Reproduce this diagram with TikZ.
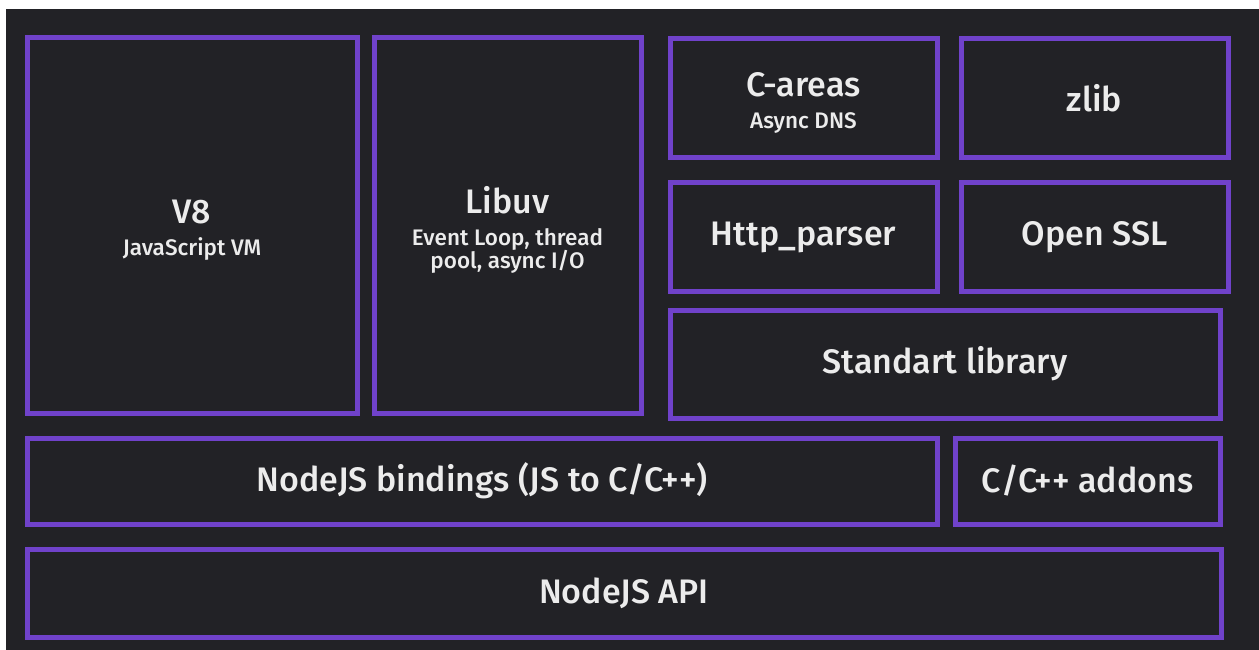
\documentclass[tikz,border=0pt]{standalone}
\usepackage{fontspec}
\setmainfont{Fira Sans Medium}
\definecolor{bgdark}{RGB}{34,34,38}
\definecolor{layerline}{RGB}{112,66,202}
\definecolor{labeltext}{RGB}{236,236,236}
\newcommand{\bigtxt}{\fontsize{34}{38}\selectfont}
\newcommand{\smalltxt}{\fontsize{22.5}{26}\selectfont}
\tikzset{
  layer/.style={draw=layerline, line width=5pt, fill=bgdark, text=labeltext,
    align=center, inner sep=0pt, font=\bigtxt},
  caption/.style={text=labeltext, align=center, inner sep=0pt, font=\bigtxt},
}
\begin{document}
\begin{tikzpicture}[x=1pt,y=-1pt]
\useasboundingbox (0,0) rectangle (1259,650);
\fill [white] (0,0) rectangle (1259,650);
\fill [bgdark] (6,9) rectangle (1259,650);

% left column
\node [layer, minimum width=330pt, minimum height=375pt] (veight) at (192,225.5) {};
\node [caption] (veighttxt) at ([yshift=-5pt]veight.center)
  {V8\\[-6pt]{\smalltxt JavaScript VM}};
\node [layer, minimum width=267pt, minimum height=375pt] (libuv) at (507.5,225.5) {};
\node [caption] (libuvtxt) at ([yshift=-4pt]libuv.center)
  {Libuv\\[-6pt]{\smalltxt Event Loop, thread}\\[-15pt]{\smalltxt pool, async I/O}};

% right column
\node [layer, minimum width=267pt, minimum height=119pt] (careas) at (803.5,98.5) {};
\node [caption] (careastxt) at ([yshift=-4pt]careas.center)
  {C-areas\\[-6pt]{\smalltxt Async DNS}};
\node [layer, minimum width=267pt, minimum height=119pt] (zlib) at (1094.5,98.5) {zlib};
\node [layer, minimum width=267pt, minimum height=108pt] (httpparser) at (803.5,237) {Http\_parser};
\node [layer, minimum width=267pt, minimum height=108pt] (openssl) at (1094.5,237) {Open SSL};
\node [layer, minimum width=550pt, minimum height=108pt] (stdlib) at (945,364) {Standart library};

% bottom rows
\node [layer, minimum width=910pt, minimum height=86pt] (bindings) at (482,481) {NodeJS bindings (JS to C/C++)};
\node [layer, minimum width=265pt, minimum height=86pt] (addons) at (1087.5,481) {C/C++ addons};
\node [layer, minimum width=1194pt, minimum height=88pt] (api) at (624,593) {NodeJS API};

\end{tikzpicture}
\end{document}
